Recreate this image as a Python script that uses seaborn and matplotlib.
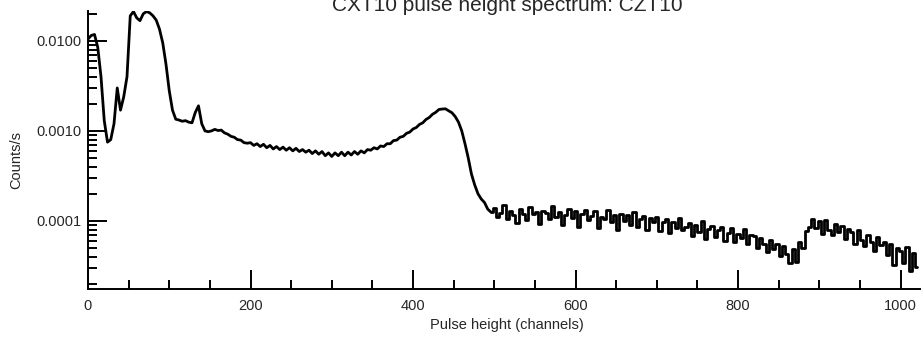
import numpy as np
import pandas as pd
import matplotlib
matplotlib.use("Agg")
import matplotlib.pyplot as plt
from matplotlib.ticker import LogLocator, FuncFormatter, NullFormatter, MultipleLocator
import seaborn as sns

sns.set_theme(style="ticks")
plt.rcParams["font.family"] = ["Liberation Sans", "DejaVu Sans"]

# channel bins (4-channel wide)
channels = np.arange(0, 1024, 4)

# rate in units of 1e-5 counts/s
low_end = [1050, 1150, 1180, 850, 400, 130, 75, 80, 120, 300,
           170, 240, 400, 1900, 2120, 1800, 1680, 2000, 2120, 2050,
           1900, 1700, 1350, 950, 550, 280, 170, 135, 132, 128]

mid_range = [130, 125, 123, 160, 190, 120, 100, 98, 100, 104,
             101, 102, 95, 92, 87, 85, 80, 79, 74, 73,
             74, 69, 72, 67, 71, 65, 69, 63, 67, 62,
             66, 61, 65, 60, 64, 59, 62, 58, 61, 56,
             60, 55, 59, 53, 57, 52, 57, 53, 58, 53,
             58, 54, 59, 55, 60, 57, 62, 61, 65, 63,
             68, 67, 72, 72, 78, 79, 85, 87, 94, 97,
             105, 109, 118, 123, 134, 141, 153, 161, 173, 175,
             176, 167, 159, 144, 125, 100, 72, 50, 33, 25,
             20, 17.5, 16.0, 13.5, 12.5]

tail = [13.8, 11.0, 12.2, 15.2, 10.4, 12.9, 11.5, 9.4, 13.6, 12.0,
        10.1, 14.1, 11.8, 12.6, 9.2, 13.0, 12.2, 10.6, 14.8, 11.0,
        12.4, 9.0, 11.6, 13.7, 10.8, 12.8, 8.6, 11.9, 13.2, 10.2,
        11.4, 12.9, 8.3, 11.1, 10.4, 13.1, 9.8, 11.6, 7.9, 12.0,
        10.0, 11.7, 9.1, 12.4, 8.5, 10.6, 11.3, 8.0, 10.9, 9.6,
        11.0, 7.8, 9.8, 10.5, 7.4, 9.6, 8.4, 10.8, 7.9, 8.6,
        9.4, 6.8, 8.9, 7.6, 9.9, 6.3, 8.2, 8.8, 6.6, 7.9,
        8.5, 6.0, 7.4, 8.3, 5.8, 7.1, 6.4, 8.1, 5.6, 6.9,
        6.8, 5.0, 6.5, 5.6, 4.5, 6.2, 4.9, 5.6, 4.1, 5.2,
        4.3, 3.4, 4.9, 3.5, 5.9, 5.0, 7.8, 8.6, 10.6, 8.4,
        9.9, 7.2, 10.1, 8.0, 6.9, 9.2, 7.6, 8.7, 6.3, 8.1,
        7.5, 5.6, 7.9, 6.2, 5.2, 7.0, 5.8, 4.6, 6.6, 5.4,
        5.9, 4.2, 5.5, 3.2, 5.0, 4.6, 3.4, 5.1, 2.8, 4.4,
        3.1]

rate = np.array(low_end + mid_range + tail) * 1e-5
df = pd.DataFrame({"channel": channels, "rate": rate})

fig = plt.figure(figsize=(9.24, 3.37), dpi=100)
ax = fig.add_axes([88 / 924, 48 / 337, 832 / 924, 278 / 337])

# smooth high-count part drawn as a line, noisy tail as a histogram step
sns.lineplot(data=df[df["channel"] <= 496], x="channel", y="rate", estimator=None,
             color="black", linewidth=2.0, ax=ax)
sns.lineplot(data=df[df["channel"] >= 496], x="channel", y="rate", estimator=None,
             color="black", linewidth=2.0, drawstyle="steps-mid", ax=ax)

ax.set_yscale("log")
ax.set_xlim(0, 1024)
ax.set_ylim(1.75e-5, 0.0215)

ax.xaxis.set_major_locator(MultipleLocator(200))
ax.xaxis.set_minor_locator(MultipleLocator(50))
ax.yaxis.set_major_locator(LogLocator(base=10, numticks=10))
ax.yaxis.set_minor_locator(LogLocator(base=10, subs=np.arange(2, 10), numticks=20))
ax.yaxis.set_major_formatter(FuncFormatter(lambda v, _: f"{v:.4f}"))
ax.yaxis.set_minor_formatter(NullFormatter())

ax.tick_params(which="both", direction="in", width=1.4, labelsize=10.5, color="black")
ax.tick_params(which="major", length=13.5)
ax.tick_params(which="minor", length=6.5)
ax.tick_params(axis="x", pad=7.5)
ax.tick_params(axis="y", pad=5)

for side in ["top", "right"]:
    ax.spines[side].set_visible(False)
for side in ["left", "bottom"]:
    ax.spines[side].set_linewidth(1.4)
    ax.spines[side].set_color("black")

ax.set_xlabel("")
ax.set_ylabel("")
fig.text(507 / 924, 1 - 325 / 337, "Pulse height (channels)", ha="center", va="center", fontsize=10.5)
fig.text(16 / 924, 1 - 160 / 337, "Counts/s", ha="center", va="center", rotation=90, fontsize=10.5)
# title sits partly above the canvas, as in the reference
fig.text(507 / 924, 1 - 11 / 337, "CXT10 pulse height spectrum: CZT10", ha="center",
         va="baseline", fontsize=15)

fig.savefig("out.png", dpi=100)
